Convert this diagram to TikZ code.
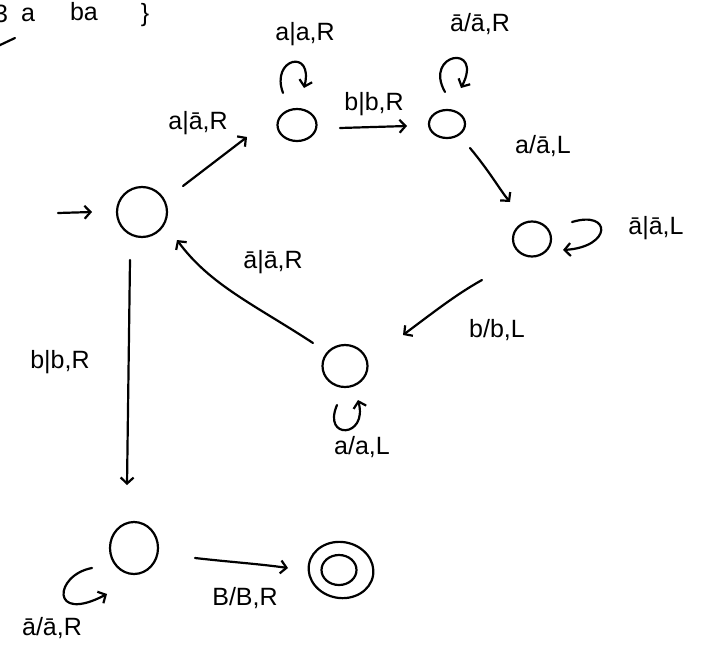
\documentclass[tikz,border=0pt]{standalone}
\usepackage{fontspec}
\setmainfont{Liberation Sans}
\usetikzlibrary{arrows.meta,shapes.geometric}
\begin{document}
\begin{tikzpicture}[x=1pt,y=-1pt,line width=2.2pt,line cap=round,line join=round,
  st/.style={draw,ellipse,inner sep=0pt},
  arr/.style={-{Straight Barb[length=6pt,width=13pt]}},
  lbl/.style={font=\fontsize{25}{27}\selectfont,inner sep=0pt}]
\useasboundingbox (0,0) rectangle (709,653);
% states
\node[st,minimum width=50pt,minimum height=50pt] (q0) at (142,212) {};
\node[st,minimum width=39pt,minimum height=32pt] (q1) at (297,125) {};
\node[st,minimum width=36pt,minimum height=28pt] (q2) at (447,124) {};
\node[st,minimum width=38pt,minimum height=35pt] (q3) at (532,239) {};
\node[st,minimum width=45pt,minimum height=42pt] (q4) at (345,366) {};
\node[st,minimum width=48pt,minimum height=52pt] (q5) at (134,548) {};
\node[st,minimum width=65pt,minimum height=56pt,rotate=-10] (q6) at (341,570) {};
\node[st,minimum width=35pt,minimum height=30pt] (q6i) at (339,570) {};
% start arrow
\coordinate (s) at (58,213);
\draw[arr] (s) -- ([xshift=-50pt]q0.center);
% transitions
\draw[arr] ([shift={(41,-26)}]q0.center) -- ([shift={(-50,12)}]q1.center);
\draw[arr] ([shift={(43,3)}]q1.center) -- ([shift={(-40,2)}]q2.center);
\draw[arr] ([shift={(23,24)}]q2.center) .. controls (490,172) and (500,190) .. ([shift={(-22,-37)}]q3.center);
\draw[arr] ([shift={(-50,41)}]q3.center) .. controls (455,295) and (430,315) .. ([shift={(58,-31)}]q4.center);
\draw[arr] ([shift={(-32,-23)}]q4.center) .. controls (255,305) and (210,285) .. ([shift={(35,28)}]q0.center);
\draw[arr] ([shift={(-12,48)}]q0.center) -- ([shift={(-7,-63)}]q5.center);
\draw[arr] ([shift={(61,10)}]q5.center) .. controls (230,562) and (260,564) .. ([shift={(-53,-2)}]q6.center);
% loops
\draw[arr] ([shift={(-14,-32)}]q1.center) .. controls (270,58) and (314,48) .. ([shift={(7,-37)}]q1.center);
\draw[arr] ([shift={(-2,-32)}]q2.center) .. controls (423,53) and (484,43) .. ([shift={(14,-36)}]q2.center);
\draw[arr] ([shift={(40,-17)}]q3.center) .. controls (612,210) and (612,247) .. ([shift={(31,11)}]q3.center);
\draw[arr] ([shift={(-8,39)}]q4.center) .. controls (322,440) and (368,438) .. ([shift={(13,34)}]q4.center);
\draw[arr] ([shift={(-42,20)}]q5.center) .. controls (54,575) and (50,624) .. ([shift={(-27,46)}]q5.center);
% labels
\node[lbl] (l1) at (305,34) {a|a,R};
\node[lbl] (l2) at (198,123) {a|ā,R};
\node[lbl] (l3) at (374,104) {b|b,R};
\node[lbl] (l4) at (480,24) {ā/ā,R};
\node[lbl] (l5) at (543,146) {a/ā,L};
\node[lbl] (l6) at (656,228) {ā|ā,L};
\node[lbl] (l7) at (497,330) {b/b,L};
\node[lbl] (l8) at (273,262) {ā|ā,R};
\node[lbl] (l9) at (362,447) {a/a,L};
\node[lbl] (l10) at (60,362) {b|b,R};
\node[lbl] (l11) at (52,628) {ā/ā,R};
\node[lbl] (l12) at (245,598) {B/B,R};
% top-left fragment
\node[lbl] (t0) at (1,14) {3};
\node[lbl] (t1) at (28,15) {a};
\node[lbl] (t2) at (84,12) {ba};
\node[lbl] (t3) at (145,15) {\}};
\coordinate (f1) at (-2,46);
\coordinate (f2) at (15,38);
\draw (f1) -- (f2);
\end{tikzpicture}
\end{document}
